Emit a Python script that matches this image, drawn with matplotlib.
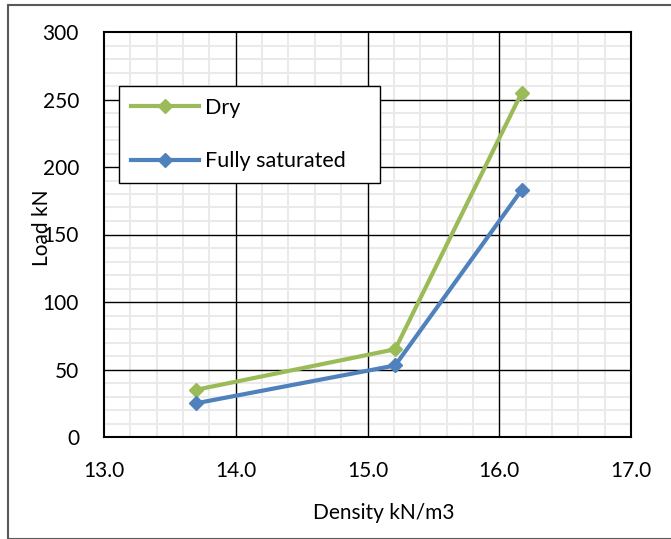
import matplotlib
matplotlib.use("Agg")
import matplotlib.pyplot as plt
from matplotlib.patches import Rectangle
from matplotlib.ticker import MultipleLocator

density_dry = [13.70, 15.21, 16.17]
load_dry = [35, 65, 255]
density_sat = [13.70, 15.21, 16.17]
load_sat = [25, 53, 183]
series_names = ["Dry", "Fully saturated"]
x_label = "Density kN/m3"
y_label = "Load kN"

plt.rcParams['font.family'] = ['Lato', 'DejaVu Sans']

W, H = 671, 539
fig = plt.figure(figsize=(W/100, H/100), dpi=100)
# outer chart border
fig.patches.append(Rectangle((8/W, 0), 1, 1 - 5/H, transform=fig.transFigure,
                             fill=False, edgecolor='#595959', linewidth=1.5))

L, R, T, B = 104, 631, 32, 437
ax = fig.add_axes([L/W, 1 - B/H, (R-L)/W, (B-T)/H])

green = '#9BBB59'
blue = '#4F81BD'
ax.plot(density_dry, load_dry, color=green, lw=3.0, marker='D', ms=7, label=series_names[0], zorder=5)
ax.plot(density_sat, load_sat, color=blue, lw=3.0, marker='D', ms=7, label=series_names[1], zorder=5)

ax.set_xlim(13, 17)
ax.set_ylim(0, 300)
ax.xaxis.set_major_locator(MultipleLocator(1))
ax.xaxis.set_minor_locator(MultipleLocator(0.2))
ax.yaxis.set_major_locator(MultipleLocator(50))
ax.yaxis.set_minor_locator(MultipleLocator(10))
ax.set_xticklabels([f"{v:.1f}" for v in ax.get_xticks()])
ax.grid(which='minor', color='#EAEAEA', lw=1.5)
ax.set_axisbelow(True)
for xv in ax.get_xticks():
    if 13 < xv < 17:
        ax.axvline(xv, color='black', lw=1.0, zorder=2)
for yv in ax.get_yticks():
    if 0 < yv < 300:
        ax.axhline(yv, color='black', lw=1.0, zorder=2)
ax.tick_params(which='both', length=0, labelsize=15)
ax.tick_params(axis='x', pad=17)
ax.tick_params(axis='y', pad=18)
for s in ax.spines.values():
    s.set_linewidth(1.5)
    s.set_color('black')
    s.set_zorder(3)

ax.set_xlabel(x_label, fontsize=15, labelpad=16)
ax.xaxis.label.set_x((384 - L) / (R - L))
fig.text(42/W, 1 - 228/H, y_label, rotation=90, ha='center', va='center', fontsize=15)

leg = ax.legend(loc='lower left', bbox_to_anchor=(0.028, 0.627, 0.495, 0.242),
                mode='expand', fontsize=15.5, frameon=True, fancybox=False,
                handlelength=3.2, labelspacing=1.55, borderpad=0.55, borderaxespad=0,
                handletextpad=0.25)
leg.get_frame().set_edgecolor('black')
leg.get_frame().set_linewidth(1.0)
leg.get_frame().set_alpha(1)
leg.set_zorder(10)

fig.savefig("out.png", dpi=100)
